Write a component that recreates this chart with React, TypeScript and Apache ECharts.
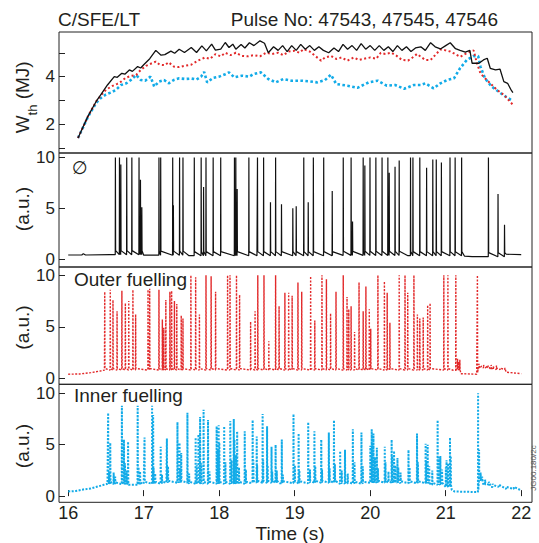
import React, { useEffect, useRef } from 'react';
import * as echarts from 'echarts';

// ---------- tick values ----------
const timeTicks = [16, 17, 18, 19, 20, 21, 22];
const wthTicks = [1, 2, 3, 4, 5];
const wthLabels = [2, 4];
const auTicks = [0, 5, 10];

// ---------- top panel: W_th (MJ) ----------
const wth47543 = [
  [16.13, 1.43], [16.26, 2.33], [16.37, 2.96], [16.43, 3.24], [16.52, 3.65], [16.61, 4.0], [16.65, 3.97],
  [16.71, 4.14], [16.75, 4.1], [16.81, 4.28], [16.85, 4.22], [16.92, 4.42], [16.96, 4.36], [17.0, 4.5],
  [17.08, 4.75], [17.16, 5.1], [17.23, 4.9], [17.28, 4.92], [17.36, 5.07], [17.41, 4.98], [17.47, 5.15],
  [17.54, 5.01], [17.63, 5.22], [17.7, 5.01], [17.77, 5.29], [17.83, 5.08], [17.9, 5.36], [17.95, 5.11],
  [18.02, 5.15], [18.08, 5.43], [18.13, 5.22], [18.18, 5.36], [18.22, 5.15], [18.29, 5.35], [18.34, 5.2],
  [18.4, 5.42], [18.46, 5.3], [18.54, 5.5], [18.6, 5.4], [18.65, 5.0], [18.72, 5.25], [18.78, 5.1],
  [18.84, 5.3], [18.9, 5.05], [18.96, 5.3], [19.02, 5.1], [19.08, 5.35], [19.14, 5.15], [19.2, 5.3],
  [19.26, 5.1], [19.32, 5.25], [19.38, 5.1], [19.45, 5.0], [19.52, 5.2], [19.58, 5.05], [19.64, 5.35],
  [19.7, 5.15], [19.76, 5.3], [19.82, 5.1], [19.88, 5.38], [19.94, 5.15], [20.0, 5.3], [20.06, 5.1],
  [20.12, 5.3], [20.18, 5.1], [20.24, 5.25], [20.3, 5.05], [20.36, 5.3], [20.42, 5.1], [20.48, 5.25],
  [20.54, 5.05], [20.6, 5.2], [20.67, 5.25], [20.73, 5.1], [20.8, 5.42], [20.86, 5.25], [20.93, 5.16],
  [21.0, 5.3], [21.06, 5.42], [21.13, 5.17], [21.19, 5.1], [21.26, 5.03], [21.32, 5.1], [21.35, 4.56],
  [21.44, 4.56], [21.5, 4.7], [21.55, 4.77], [21.59, 4.35], [21.66, 4.28], [21.72, 4.31], [21.77, 3.79],
  [21.82, 3.72], [21.87, 3.42], [21.89, 3.33],
];
const wth47545 = [
  [16.13, 1.43], [16.26, 2.33], [16.37, 2.96], [16.43, 3.2], [16.5, 3.45], [16.58, 3.6], [16.65, 3.7],
  [16.7, 3.79], [16.76, 3.95], [16.83, 4.03], [16.9, 4.07], [16.96, 4.28], [17.03, 4.45], [17.1, 4.55],
  [17.16, 4.63], [17.21, 4.5], [17.28, 4.48], [17.33, 4.6], [17.4, 4.42], [17.47, 4.4], [17.55, 4.46],
  [17.63, 4.5], [17.72, 4.67], [17.81, 4.8], [17.88, 4.75], [17.95, 4.94], [18.02, 4.85], [18.08, 5.0],
  [18.15, 4.9], [18.22, 5.0], [18.3, 4.87], [18.38, 4.85], [18.46, 4.9], [18.54, 4.85], [18.62, 5.0],
  [18.7, 4.95], [18.78, 5.0], [18.85, 4.9], [18.92, 5.05], [19.0, 5.08], [19.06, 5.0], [19.12, 5.15],
  [19.2, 5.05], [19.27, 4.87], [19.35, 4.67], [19.4, 4.8], [19.48, 4.87], [19.55, 4.74], [19.62, 4.8],
  [19.7, 4.67], [19.78, 4.8], [19.85, 4.7], [19.92, 4.75], [20.0, 4.8], [20.08, 4.75], [20.14, 5.0],
  [20.2, 4.95], [20.28, 5.0], [20.35, 4.87], [20.42, 4.7], [20.5, 4.67], [20.56, 4.8], [20.62, 4.95],
  [20.67, 4.83], [20.73, 4.7], [20.8, 4.7], [20.86, 4.9], [20.93, 5.14], [21.0, 5.1], [21.06, 5.05],
  [21.11, 4.97], [21.19, 4.83], [21.26, 4.95], [21.32, 5.05], [21.37, 5.1], [21.41, 4.6], [21.46, 4.14],
  [21.52, 3.93], [21.59, 3.72], [21.68, 3.44], [21.77, 3.24], [21.83, 3.03], [21.89, 2.82],
];
const wth47546 = [
  [16.13, 1.43], [16.26, 2.3], [16.37, 2.9], [16.43, 3.1], [16.5, 3.25], [16.56, 3.33], [16.63, 3.44],
  [16.7, 3.65], [16.77, 3.72], [16.83, 3.86], [16.9, 4.07], [16.96, 3.86], [17.02, 3.83], [17.09, 4.0],
  [17.14, 3.58], [17.2, 3.79], [17.27, 3.86], [17.33, 3.72], [17.4, 3.86], [17.47, 3.93], [17.55, 3.9],
  [17.63, 3.92], [17.7, 3.88], [17.76, 4.0], [17.8, 4.2], [17.84, 3.76], [17.92, 3.95], [18.0, 4.0],
  [18.08, 4.1], [18.13, 4.18], [18.2, 3.97], [18.3, 4.04], [18.4, 4.0], [18.45, 4.1], [18.55, 4.18],
  [18.65, 3.9], [18.75, 3.76], [18.85, 3.9], [18.96, 3.83], [19.1, 3.83], [19.2, 3.8], [19.3, 3.76],
  [19.4, 3.85], [19.48, 4.08], [19.55, 3.69], [19.7, 3.62], [19.83, 3.53], [19.98, 3.76], [20.1, 3.83],
  [20.22, 3.62], [20.33, 3.65], [20.45, 3.49], [20.58, 3.65], [20.67, 3.65], [20.73, 3.72], [20.84, 3.51],
  [20.93, 3.72], [21.02, 3.86], [21.11, 3.93], [21.19, 4.35], [21.28, 4.7], [21.37, 4.86], [21.43, 4.86],
  [21.46, 4.42], [21.52, 3.93], [21.61, 3.58], [21.7, 3.37], [21.79, 3.17], [21.88, 3.0],
];

// ---------- panel 2: no fuelling, D-alpha (a.u.) ----------
const noneBase = [
  [16.0, 0.42], [16.18, 0.42], [16.2, 0.55], [16.23, 0.42], [16.55, 0.45], [17.0, 0.4], [17.6, 0.35],
  [18.5, 0.35], [19.5, 0.38], [20.5, 0.35], [21.25, 0.3], [21.35, 0.25], [21.55, 0.25], [21.8, 0.5], [22.0, 0.45],
];
const noneSpikes = [
  [16.623, 10], [16.677, 10], [16.695, 9.3], [16.773, 10], [16.841, 10], [16.936, 10], [16.955, 7.8],
  [16.973, 5.1], [17.2, 10], [17.223, 10], [17.382, 10], [17.391, 5.3], [17.473, 10], [17.518, 10],
  [17.668, 10], [17.759, 10], [17.791, 7.1], [17.823, 10], [17.918, 10], [18.018, 10], [18.2, 10],
  [18.218, 10], [18.236, 6.9], [18.391, 10], [18.505, 10], [18.586, 10], [18.677, 5.6], [18.745, 10],
  [18.823, 5.4], [18.973, 5.0], [19.018, 5.2], [19.118, 10], [19.177, 5.6], [19.245, 10], [19.382, 10],
  [19.495, 6.7], [19.641, 10], [19.745, 10], [19.764, 3.7], [19.905, 10], [19.927, 9.2], [19.995, 10],
  [20.073, 10], [20.155, 10], [20.232, 10], [20.25, 8.5], [20.327, 9.1], [20.382, 9.7], [20.532, 10],
  [20.564, 10], [20.655, 10], [20.745, 9.0], [20.827, 9.8], [20.873, 9.8], [20.941, 9.5], [21.055, 10],
  [21.123, 10], [21.209, 10], [21.564, 10], [21.691, 6.4], [21.777, 3.4],
];

// ---------- panel 3: outer fuelling ----------
const outerBase = [
  [16.0, 0.4], [16.15, 0.42], [16.3, 0.55], [16.42, 0.7], [16.48, 0.8], [21.1, 0.78], [21.14, 0.8],
  [21.2, 0.45], [21.41, 0.4], [21.43, 1.0], [21.6, 0.85], [21.8, 0.6], [22.0, 0.45],
];
const outerSpikes = [
  [16.482, 8.4], [16.555, 8.6], [16.591, 7.6], [16.645, 6.5], [16.709, 8.5], [16.755, 7.3], [16.8, 7.5],
  [16.855, 8.6], [16.891, 6.2], [17.055, 8.6], [17.077, 8.7], [17.2, 8.6], [17.245, 5.7], [17.264, 4.9],
  [17.291, 7.6], [17.345, 8.4], [17.368, 8.5], [17.405, 7.5], [17.436, 7.2], [17.495, 6.1], [17.518, 5.8],
  [17.623, 10], [17.686, 9.8], [17.736, 6.2], [17.823, 10], [17.891, 9.9], [17.95, 8.4], [18.109, 10],
  [18.141, 10], [18.227, 10], [18.268, 8.1], [18.414, 5.5], [18.473, 6.5], [18.509, 10], [18.591, 10],
  [18.655, 3.6], [18.745, 10], [18.791, 7.0], [18.868, 8.3], [18.918, 8.3], [18.964, 8.0], [19.041, 9.3],
  [19.091, 8.4], [19.209, 9.9], [19.264, 5.6], [19.359, 10], [19.418, 9.6], [19.473, 6.3], [19.545, 8.4],
  [19.641, 10], [19.691, 7.9], [19.714, 6.7], [19.745, 7.0], [19.791, 4.5], [19.85, 9.3], [19.905, 6.5],
  [19.941, 8.9], [19.986, 6.7], [20.005, 4.8], [20.1, 10], [20.186, 9.4], [20.223, 8.3], [20.259, 5.4],
  [20.382, 10], [20.459, 10], [20.495, 8.3], [20.577, 10], [20.623, 6.2], [20.655, 5.8], [20.7, 5.9],
  [20.759, 7.1], [20.791, 7.3], [20.973, 10], [21.027, 10], [21.132, 10], [21.155, 1.9], [21.17, 1.6],
  [21.185, 1.8], [21.418, 10],
];
const outerTail = [
  [21.44, 1.4], [21.47, 1.2], [21.5, 1.3], [21.53, 1.2], [21.56, 1.25], [21.6, 1.3], [21.63, 1.2],
  [21.67, 1.25], [21.72, 1.0], [21.78, 0.9],
];

// ---------- panel 4: inner fuelling ----------
const innerBase = [
  [16.0, 0.45], [16.1, 0.5], [16.2, 0.65], [16.3, 0.75], [16.4, 0.95], [16.47, 1.1], [16.52, 1.2],
  [16.6, 1.15], [16.8, 1.1], [17.0, 1.2], [17.3, 1.3], [17.6, 1.2], [18.0, 1.2], [18.4, 1.3], [18.8, 1.25],
  [19.2, 1.3], [19.6, 1.2], [20.0, 1.3], [20.4, 1.25], [20.8, 1.1], [21.0, 0.9], [21.08, 0.6], [21.12, 0.45],
  [21.4, 0.4], [21.43, 1.5], [21.5, 1.1], [21.6, 0.9], [21.8, 0.7], [22.0, 0.55],
];
const innerSpikes = [
  [16.527, 8.1], [16.555, 5.2], [16.709, 8.8], [16.736, 5.5], [16.791, 5.3], [16.918, 8.8], [17.009, 5.7],
  [17.109, 8.8], [17.123, 7.9], [17.223, 4.8], [17.305, 5.6], [17.445, 7.2], [17.473, 5.2], [17.495, 4.2],
  [17.577, 8.1], [17.686, 5.7], [17.723, 6.0], [17.745, 7.7], [17.791, 8.4], [17.85, 7.4], [17.964, 6.8],
  [17.991, 6.9], [18.064, 6.8], [18.145, 7.3], [18.191, 7.5], [18.236, 6.3], [18.336, 6.3], [18.441, 7.4],
  [18.495, 5.8], [18.573, 8.0], [18.632, 6.8], [18.691, 4.8], [18.745, 5.0], [18.827, 5.5], [18.982, 8.0],
  [19.05, 6.1], [19.177, 7.2], [19.259, 6.3], [19.35, 5.5], [19.45, 6.2], [19.518, 7.4], [19.6, 4.4],
  [19.664, 4.5], [19.768, 6.5], [19.882, 6.2], [20.018, 6.5], [20.041, 6.1], [20.086, 4.7], [20.191, 4.8],
  [20.282, 5.5], [20.314, 4.4], [20.359, 3.7], [20.505, 4.5], [20.618, 6.1], [20.732, 5.1], [20.759, 5.0],
  [20.891, 7.4], [20.927, 3.9], [21.009, 3.5], [21.055, 5.7], [21.427, 10],
];
const innerMinorSpikes = [
  [16.54, 2.4], [16.6, 2.3], [16.62, 1.9], [16.75, 3.2], [16.77, 2.5], [16.93, 2.8], [16.95, 2.4],
  [17.13, 2.7], [17.15, 2.2], [17.24, 2.1], [17.32, 2.9], [17.46, 3.0], [17.48, 2.6], [17.6, 2.2],
  [17.7, 3.0], [17.76, 3.2], [17.87, 2.4], [17.98, 4.5], [18.0, 5.2], [18.08, 3.3], [18.16, 3.5],
  [18.2, 5.5], [18.22, 4.0], [18.26, 2.8], [18.35, 2.6], [18.45, 3.5], [18.5, 3.0], [18.58, 3.5],
  [18.64, 3.0], [18.7, 2.4], [18.76, 2.5], [18.84, 2.1], [19.0, 3.0], [19.06, 2.5], [19.2, 2.6],
  [19.27, 2.9], [19.36, 2.6], [19.46, 2.7], [19.53, 3.1], [19.62, 2.5], [19.7, 2.2], [19.79, 3.3],
  [19.9, 2.9], [20.0, 4.9], [20.03, 5.2], [20.06, 3.8], [20.1, 2.7], [20.2, 3.3], [20.24, 2.4],
  [20.29, 3.9], [20.33, 3.0], [20.37, 2.8], [20.4, 2.3], [20.52, 2.8], [20.63, 3.3], [20.74, 3.4],
  [20.78, 2.9], [20.82, 2.5], [20.9, 3.8], [20.95, 2.6], [21.0, 2.8], [21.03, 3.2], [21.065, 3.9],
  [21.44, 4.5], [21.46, 2.3], [21.48, 1.9], [21.52, 1.6], [21.57, 1.4], [21.62, 1.2], [21.7, 1.0],
  [21.8, 0.9], [21.9, 0.8],
];

// ---------- helpers ----------
function baseAt(base: number[][], t: number) {
  let f = base[0][1];
  for (const b of base) if (b[0] <= t) f = b[1];
  return f;
}
function buildTrace(base: number[][], spikes: number[][], bump: number) {
  const pts: number[][] = base.map((p) => [p[0], p[1]]);
  for (const [t, h] of spikes) {
    const f = baseAt(base, t);
    pts.push([t, f], [t + 0.002, h], [t + 0.005, f + bump]);
  }
  pts.sort((a, b) => a[0] - b[0]);
  return pts;
}

const FONT = '"Liberation Sans", Arial, Helvetica, sans-serif';
const INK = '#231f20';
const RED = '#e2292a';
const BLUE = '#12abe8';

export default function App() {
  const ref = useRef<HTMLDivElement>(null);
  useEffect(() => {
    if (!ref.current) return;
    const chart = echarts.init(ref.current, null, { renderer: 'svg' });
    const grids = [
      { left: 59, width: 473, top: 32, height: 121 },
      { left: 59, width: 473, top: 153, height: 114 },
      { left: 59, width: 473, top: 267, height: 117.3 },
      { left: 59, width: 473, top: 384.3, height: 118 },
    ];
    const yRanges = [
      [0.8, 5.87],
      [-0.76, 10.44],
      [-0.58, 10.8],
      [-0.6, 10.88],
    ];
    const noneData = buildTrace(noneBase, noneSpikes, 0.4);
    const outerData = buildTrace(outerBase, outerSpikes.concat(outerTail), 0.15);
    const innerData = buildTrace(innerBase, innerSpikes.concat(innerMinorSpikes), 0.2);

    const txt = (text: string, x: number, y: number, size: number, align: string, rot = 0, family = FONT, fill = INK) => ({
      type: 'text',
      x,
      y,
      rotation: rot,
      silent: true,
      style: { text, fill, font: `${size}px ${family}`, textAlign: align, textVerticalAlign: 'middle' },
    });

    const option: any = {
      animation: false,
      backgroundColor: '#ffffff',
      grid: grids.map((g) => ({ ...g, show: true, borderColor: '#222', borderWidth: 1, backgroundColor: 'transparent' })),
      xAxis: grids.map((g, i) => ({
        type: 'value',
        gridIndex: i,
        min: 15.878,
        max: 22.143,
        axisLine: { show: false },
        splitLine: { show: false },
        axisTick:
          i === 3
            ? { show: true, inside: true, length: 6, customValues: timeTicks, lineStyle: { color: '#222', width: 1 } }
            : { show: false },
        axisLabel:
          i === 3
            ? { show: true, customValues: timeTicks, margin: 3, fontSize: 18, lineHeight: 16, color: INK, fontFamily: FONT }
            : { show: false },
      })),
      yAxis: grids.map((g, i) => ({
        type: 'value',
        gridIndex: i,
        min: yRanges[i][0],
        max: yRanges[i][1],
        axisLine: { show: false },
        splitLine: { show: false },
        axisTick: {
          show: true,
          inside: true,
          length: 6,
          customValues: i === 0 ? wthTicks : auTicks,
          lineStyle: { color: '#222', width: 1 },
        },
        axisLabel: {
          show: true,
          customValues: i === 0 ? wthLabels : auTicks,
          margin: 4,
          fontSize: 17,
          lineHeight: 12,
          color: INK,
          fontFamily: FONT,
        },
      })),
      series: [
        {
          type: 'line', xAxisIndex: 0, yAxisIndex: 0, data: wth47543, showSymbol: false, symbol: 'none', silent: true,
          lineStyle: { color: '#111', width: 1.3 }, z: 4,
        },
        {
          type: 'line', xAxisIndex: 0, yAxisIndex: 0, data: wth47545, showSymbol: false, symbol: 'none', silent: true,
          lineStyle: { color: RED, width: 2, type: [2, 2.5] }, z: 3,
        },
        {
          type: 'line', xAxisIndex: 0, yAxisIndex: 0, data: wth47546, showSymbol: false, symbol: 'none', silent: true,
          lineStyle: { color: BLUE, width: 2.6, type: [2.6, 2.4] }, z: 2,
        },
        {
          type: 'line', xAxisIndex: 1, yAxisIndex: 1, data: noneData, showSymbol: false, symbol: 'none', silent: true,
          lineStyle: { color: '#111', width: 1.2 }, clip: true,
        },
        {
          type: 'line', xAxisIndex: 2, yAxisIndex: 2, data: outerData, showSymbol: false, symbol: 'none', silent: true,
          lineStyle: { color: RED, width: 1.4, type: [2, 1.5] }, clip: true,
        },
        {
          type: 'line', xAxisIndex: 3, yAxisIndex: 3, data: innerData, showSymbol: false, symbol: 'none', silent: true,
          lineStyle: { color: BLUE, width: 2, type: [2, 1.5] }, clip: true,
        },
      ],
      graphic: [
        txt('C/SFE/LT', 58, 19.5, 19, 'left'),
        txt('Pulse No: 47543, 47545, 47546', 498, 19.5, 19, 'right'),
        txt('W', 22.5, 133.3, 19, 'left', Math.PI / 2),
        txt('th', 32.5, 115.4, 13, 'left', Math.PI / 2),
        txt(' (MJ)', 22.5, 104.6, 19, 'left', Math.PI / 2),
        txt('(a.u.)', 22, 209, 19, 'center', Math.PI / 2),
        txt('(a.u.)', 22, 327.5, 19, 'center', Math.PI / 2),
        txt('(a.u.)', 22, 446, 19, 'center', Math.PI / 2),
        txt('\u2205', 72, 167, 18, 'left', 0, '"DejaVu Sans", sans-serif'),
        txt('Outer fuelling', 74, 279, 19, 'left'),
        txt('Inner fuelling', 74, 395.5, 19, 'left'),
        txt('Time (s)', 290, 533, 19, 'center'),
        txt('JG00.180/2c', 533, 468, 8, 'center', Math.PI / 2, FONT, '#555'),
      ],
    };
    chart.setOption(option);
    return () => chart.dispose();
  }, []);
  return <div ref={ref} style={{ position: 'absolute', left: 0, top: 0, width: 539, height: 543, background: '#fff' }} />;
}
